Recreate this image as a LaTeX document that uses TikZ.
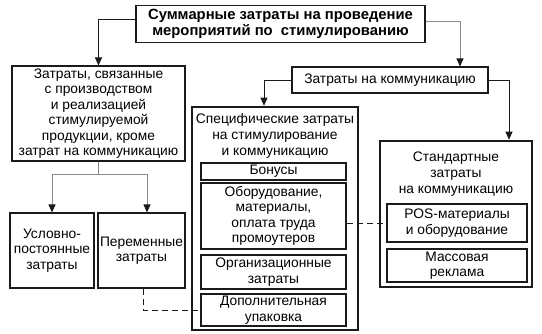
\documentclass[tikz,border=0pt]{standalone}
\usepackage{fontspec}
\setmainfont{Liberation Sans}
\usepackage{tikz}
\usetikzlibrary{arrows.meta,calc}
\definecolor{cizgiSiyah}{HTML}{1A1A1A}
\definecolor{cizgiGri}{HTML}{8A8A8A}

\begin{document}
\begin{tikzpicture}[x=1pt,y=-1pt,
  kutu/.style={draw=cizgiSiyah,line width=1.1pt,inner sep=0pt,align=center,font=\fontsize{13.8}{15.5}\selectfont},
  anaKutu/.style={draw=cizgiSiyah,line width=2.6pt,inner sep=0pt},
  baslik/.style={inner sep=0pt,align=center,font=\fontsize{13.8}{16}\selectfont},
  ok/.style={-{Triangle[length=8pt,width=7pt,color=cizgiSiyah]},line width=0.9pt},
  kesik/.style={dash pattern=on 6pt off 4pt,line width=0.9pt}]
\useasboundingbox (0,0) rectangle (542,333);
% 1) Ust kutular
\node[kutu,minimum width=289pt,minimum height=37pt,font=\bfseries\fontsize{14.8}{16}\selectfont] (toplam) at (280.5,24) {Суммарные затраты на проведение\\мероприятий по~~стимулированию};
\node[kutu,minimum width=173pt,minimum height=95pt] (uretim) at (98.5,113.5) {Затраты, связанные\\с производством\\и реализацией\\стимулируемой\\продукции, кроме\\затрат на коммуникацию};
\node[kutu,minimum width=196pt,minimum height=26pt] (iletisim) at (390,80) {Затраты на коммуникацию};
% 2) Specific (ozel)
\node[anaKutu,minimum width=166pt,minimum height=223pt] (ozel) at (275,218.5) {};
\node[baslik] (ozelBaslik) at (275,136) {Специфические затраты\\на стимулирование\\и коммуникацию};
\node[kutu,minimum width=145pt,minimum height=17pt] (bonus) at (273.5,171.5) {Бонусы};
\node[kutu,minimum width=145pt,minimum height=66pt] (ekipman) at (273.5,216) {Оборудование,\\материалы,\\оплата труда\\промоутеров};
\node[kutu,minimum width=145pt,minimum height=34pt] (organizasyon) at (273.5,272) {Организационные\\затраты};
\node[kutu,minimum width=145pt,minimum height=32pt] (ambalaj) at (273.5,310) {Дополнительная\\упаковка};
% 3) Standard (standart)
\node[anaKutu,minimum width=152pt,minimum height=146pt] (standart) at (456,214) {};
\node[baslik] (standartBaslik) at (456,174) {Стандартные\\затраты\\на коммуникацию};
\node[kutu,minimum width=140pt,minimum height=38pt] (pos) at (457,223) {POS-материалы\\и оборудование};
\node[kutu,minimum width=140pt,minimum height=33pt] (reklam) at (457,265.5) {Массовая\\реклама};
% 4) Alt kutular
\node[kutu,minimum width=84pt,minimum height=75pt] (sabit) at (52,250.5) {Условно-\\постоянные\\затраты};
\node[kutu,minimum width=87pt,minimum height=75pt] (degisken) at (141.5,250.5) {Переменные\\затраты};
% 5) Oklar
\draw[ok,draw=cizgiSiyah] ([yshift=5pt]toplam.west) -| (uretim.north);
\draw[ok,draw=cizgiGri] ([yshift=3pt]toplam.east) -| ([xshift=70pt]iletisim.north);
\draw[ok,draw=cizgiSiyah] (iletisim.west) -| ([xshift=-11pt]ozel.north);
\draw[ok,draw=cizgiSiyah] (iletisim.east) -| ([xshift=53pt]standart.north);
\draw[cizgiGri,line width=0.9pt] (uretim.south) -- ++(0,13) coordinate (catal);
\draw[ok,draw=cizgiGri] (catal) -| (sabit.north);
\draw[ok,draw=cizgiGri] (catal) -| ([xshift=5.5pt]degisken.north);
% 6) Kesik cizgiler
\draw[kesik,cizgiSiyah] ([xshift=1.5pt]degisken.south) |- (ambalaj.west);
\draw[kesik,cizgiSiyah] (ekipman.east |- pos.west) -- (pos.west);
\end{tikzpicture}
\end{document}
